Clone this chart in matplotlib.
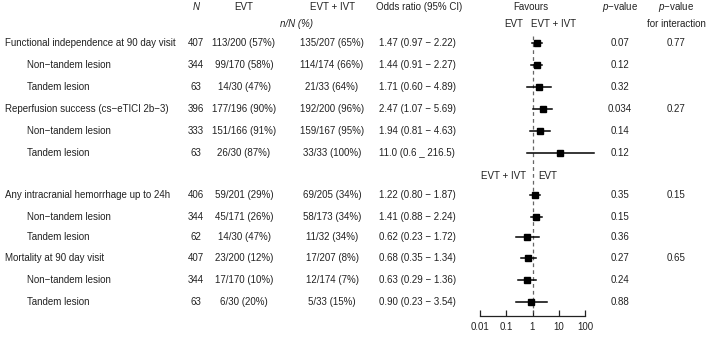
import matplotlib
matplotlib.use("Agg")
import matplotlib.pyplot as plt
import numpy as np

plt.rcParams['font.family'] = ['Liberation Sans', 'DejaVu Sans']
plt.rcParams['mathtext.fontset'] = 'custom'
plt.rcParams['mathtext.it'] = 'Liberation Sans:italic'
plt.rcParams['mathtext.rm'] = 'Liberation Sans'
M = "\u2212"

labels = ["Functional independence at 90 day visit", "Non" + M + "tandem lesion", "Tandem lesion",
          "Reperfusion success (cs" + M + "eTICI 2b" + M + "3)", "Non" + M + "tandem lesion", "Tandem lesion",
          "Any intracranial hemorrhage up to 24h", "Non" + M + "tandem lesion", "Tandem lesion",
          "Mortality at 90 day visit", "Non" + M + "tandem lesion", "Tandem lesion"]
is_sub = [False, True, True, False, True, True, False, True, True, False, True, True]
n_total = [407, 344, 63, 396, 333, 63, 406, 344, 62, 407, 344, 63]
evt = ["113/200 (57%)", "99/170 (58%)", "14/30 (47%)", "177/196 (90%)", "151/166 (91%)", "26/30 (87%)",
       "59/201 (29%)", "45/171 (26%)", "14/30 (47%)", "23/200 (12%)", "17/170 (10%)", "6/30 (20%)"]
evt_ivt = ["135/207 (65%)", "114/174 (66%)", "21/33 (64%)", "192/200 (96%)", "159/167 (95%)", "33/33 (100%)",
           "69/205 (34%)", "58/173 (34%)", "11/32 (34%)", "17/207 (8%)", "12/174 (7%)", "5/33 (15%)"]
or_est = [1.47, 1.44, 1.71, 2.47, 1.94, 11.0, 1.22, 1.41, 0.62, 0.68, 0.63, 0.90]
or_lo = [0.97, 0.91, 0.60, 1.07, 0.81, 0.6, 0.80, 0.88, 0.23, 0.35, 0.29, 0.23]
or_hi = [2.22, 2.27, 4.89, 5.69, 4.63, 216.5, 1.87, 2.24, 1.72, 1.34, 1.36, 3.54]
or_txt = ["1.47 (0.97 " + M + " 2.22)", "1.44 (0.91 " + M + " 2.27)", "1.71 (0.60 " + M + " 4.89)",
          "2.47 (1.07 " + M + " 5.69)", "1.94 (0.81 " + M + " 4.63)", "11.0 (0.6 _ 216.5)",
          "1.22 (0.80 " + M + " 1.87)", "1.41 (0.88 " + M + " 2.24)", "0.62 (0.23 " + M + " 1.72)",
          "0.68 (0.35 " + M + " 1.34)", "0.63 (0.29 " + M + " 1.36)", "0.90 (0.23 " + M + " 3.54)"]
pvals = ["0.07", "0.12", "0.32", "0.034", "0.14", "0.12", "0.35", "0.15", "0.36", "0.27", "0.24", "0.88"]
p_inter = ["0.77", "", "", "0.27", "", "", "0.15", "", "", "0.65", "", ""]
ticks = [0.01, 0.1, 1, 10, 100]
tick_labels = ["0.01", "0.1", "1", "10", "100"]

row_y = [43, 65, 87, 109, 131, 153, 195, 217, 237, 258, 280, 302]

W, H = 709, 337
fig = plt.figure(figsize=(W / 100, H / 100), dpi=100)
ax = fig.add_axes([0, 0, 1, 1])
ax.set_xlim(0, W)
ax.set_ylim(H, 0)
ax.axis('off')

fs = 7.05
col = '#222222'
kw = dict(fontsize=fs, color=col, va='center')

# headers
ax.text(196, 7, "N", ha='center', style='italic', **kw)
ax.text(244, 7, "EVT", ha='center', **kw)
ax.text(332, 7, "EVT + IVT", ha='center', **kw)
ax.text(296, 24, "n/N (%)", ha='center', style='italic', **kw)
ax.text(419, 7, "Odds ratio (95% CI)", ha='center', **kw)
ax.text(531, 7, "Favours", ha='center', **kw)
ax.text(523, 24, "EVT", ha='right', **kw)
ax.text(531, 24, "EVT + IVT", ha='left', **kw)
ax.text(526, 176, "EVT + IVT", ha='right', **kw)
ax.text(538, 176, "EVT", ha='left', **kw)
ax.text(620, 7, "$p$" + M + "value", ha='center', **kw)
ax.text(676, 7, "$p$" + M + "value", ha='center', **kw)
ax.text(676, 24, "for interaction", ha='center', **kw)

for i, y in enumerate(row_y):
    ax.text(27 if is_sub[i] else 5, y, labels[i], ha='left', **kw)
    ax.text(196, y, str(n_total[i]), ha='center', **kw)
    ax.text(244, y, evt[i], ha='center', **kw)
    ax.text(332, y, evt_ivt[i], ha='center', **kw)
    ax.text(379, y, or_txt[i], ha='left', **kw)
    ax.text(620, y, pvals[i], ha='center', **kw)
    if p_inter[i]:
        ax.text(676, y, p_inter[i], ha='center', **kw)

# forest axes
x0, x1 = 480, 585
fa = fig.add_axes([x0 / W, 0, (x1 - x0) / W, 1])
fa.set_xscale('log')
fa.set_xlim(0.01, 100)
fa.set_ylim(H, 0)
fa.patch.set_alpha(0)
for s in ['top', 'left', 'right']:
    fa.spines[s].set_visible(False)
fa.spines['bottom'].set_position(('data', 316))
fa.spines['bottom'].set_linewidth(0.9)
fa.spines['bottom'].set_color(col)
fa.set_yticks([])
fa.set_xticks(ticks)
fa.set_xticklabels(tick_labels)
fa.minorticks_off()
fa.tick_params(axis='x', direction='in', length=4, width=0.9, colors=col, labelsize=fs, pad=4)

fa.plot([1, 1], [36, 312], ls=(0, (3, 2.5)), color='#666666', lw=0.9)
for i, y in enumerate(row_y):
    fa.plot([or_lo[i], or_hi[i]], [y, y], color='black', lw=1.1, clip_on=False)
    fa.plot([or_est[i]], [y], marker='s', ms=5, color='black', clip_on=False)

fig.savefig("out.png", dpi=100)
